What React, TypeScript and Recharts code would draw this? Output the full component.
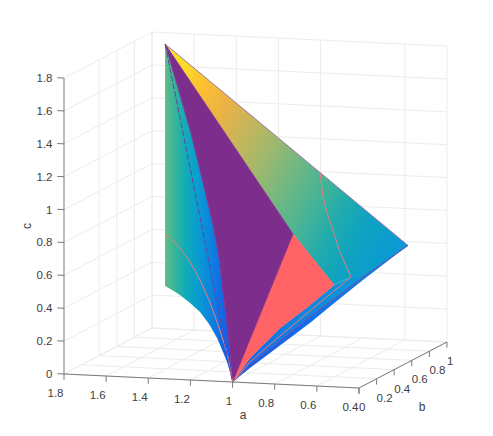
import React from 'react';
import { ComposedChart, XAxis, YAxis, Area, Line, Scatter } from 'recharts';

type P3 = [number, number, number]; // a, b, c

const A_TICKS = [1.8, 1.6, 1.4, 1.2, 1, 0.8, 0.6, 0.4];
const B_TICKS = [0, 0.2, 0.4, 0.6, 0.8, 1];
const C_TICKS = [0, 0.2, 0.4, 0.6, 0.8, 1, 1.2, 1.4, 1.6, 1.8];
const B_WALL_LINES = [0.4, 0.6, 0.8, 1];
const A_WALL_LINES = [1.8, 1.6, 1.4, 1.2, 1, 0.6, 0.4];

const APEX: P3 = [1.738, 1, 1.731];
const TIP: P3 = [0.585, 1, 0.576];
const ORIGIN: P3 = [1, 0, 0];
const PURPLE_CORNER: P3 = [1.131, 1, 0.613];
const SALMON_CORNER: P3 = [0.936, 1, 0.314];
const RED_CORNER: P3 = [0.856, 1, 0.368];
const LINE_KNEE: P3 = [0.799, 1, 0.371];

const WING_EDGE: P3[] = [[1.738, 1, 0.259], [1.642, 0.85, 0.283], [1.563, 0.75, 0.285], [1.473, 0.65, 0.27], [1.363, 0.5, 0.264], [1.258, 0.35, 0.239], [1.178, 0.25, 0.187], [1.108, 0.15, 0.134], [1.068, 0.1, 0.09], [1.033, 0.05, 0.045]];
const PURPLE_EDGE: P3[] = [[1.031, 0.05, 0.13], [1.063, 0.1, 0.266], [1.15, 0.25, 0.468], [1.202, 0.33, 0.65], [1.26, 0.4, 0.827], [1.375, 0.55, 1.064], [1.494, 0.7, 1.307], [1.614, 0.85, 1.513]];
const SALMON_EDGE: P3[] = [[0.967, 0.8, 0.247], [0.984, 0.5, 0.19], [1.001, 0.2, 0.09]];
const OUTER_EDGE: P3[] = [[0.799, 1, 0.353], [0.899, 0.9, 0.229], [0.967, 0.8, 0.137], [0.984, 0.5, 0.083], [1.001, 0.2, 0.029]];
const LOW_PURPLE: P3[] = [[0.899, 0.9, 0.253], [0.967, 0.8, 0.174], [0.984, 0.5, 0.11], [1.001, 0.2, 0.047]];
const RED_LOW: P3[] = [[0.967, 0.8, 0.21], [0.984, 0.5, 0.141], [1.001, 0.2, 0.066]];
const RED_UP: P3[] = [[1.003, 1, 0.997], [0.988, 1, 0.846], [0.969, 1, 0.75], [0.946, 1, 0.666], [0.908, 1, 0.517]];
const RED_LEFT: P3[] = [[1.738, 1, 0.576], [1.642, 0.85, 0.587], [1.563, 0.75, 0.571], [1.494, 0.7, 0.504], [1.363, 0.5, 0.458], [1.279, 0.4, 0.37], [1.178, 0.25, 0.284], [1.121, 0.17, 0.219], [1.068, 0.1, 0.144], [1.033, 0.05, 0.069]];
const DASH_LEFT: P3[] = [[1.569, 0.8, 1.256], [1.391, 0.6, 0.721], [1.26, 0.4, 0.48], [1.164, 0.25, 0.309], [1.068, 0.1, 0.132]];

// View: orthographic projection of the MATLAB camera
const proj = ([a, b, c]: P3) => ({
  x: 64 + (1.8 - a) * 210.7 + 88 * b,
  y: 436 - (374 + (1.8 - a) * 10 - 46 * b - 164.4 * c),
});
const path = (pts: P3[]) => pts.map(proj);
const poly = (pts: P3[]) => path([...pts, pts[0]]);

const rev = (p: P3[]) => [...p].reverse();
const WING = poly([APEX, ...rev(PURPLE_EDGE), ORIGIN, ...rev(WING_EDGE)]);
const SHEET = poly([APEX, TIP, LINE_KNEE, RED_CORNER, SALMON_CORNER, PURPLE_CORNER]);
const PURPLE = poly([APEX, PURPLE_CORNER, ORIGIN, ...PURPLE_EDGE]);
const SALMON = poly([PURPLE_CORNER, SALMON_CORNER, ...SALMON_EDGE, ORIGIN]);
const MID_BAND = poly([ORIGIN, ...rev(SALMON_EDGE), SALMON_CORNER, RED_CORNER, LINE_KNEE, ...LOW_PURPLE]);
const LOW_BAND = poly([ORIGIN, ...rev(OUTER_EDGE), TIP, LINE_KNEE, ...LOW_PURPLE]);

const seg = (p: P3, q: P3) => path([p, q]);
const GRID = [
  ...C_TICKS.map((c) => path([[1.8, 0, c], [1.8, 1, c], [0.4, 1, c]])),
  ...B_WALL_LINES.map((b) => seg([1.8, b, 0], [1.8, b, 1.8])),
  ...A_WALL_LINES.map((a) => seg([a, 1, 0], [a, 1, 1.8])),
  ...A_TICKS.map((a) => seg([a, 0, 0], [a, 1, 0])),
  ...B_TICKS.map((b) => seg([1.8, b, 0], [0.4, b, 0])),
];
const AXES = [
  seg([1.8, 0, 0], [1.8, 0, 1.8]),
  seg([1.8, 0, 0], [0.4, 0, 0]),
  seg([0.4, 0, 0], [0.4, 1, 0]),
  ...C_TICKS.map((c) => seg([1.8, 0, c], [1.832, 0, c])),
  ...A_TICKS.map((a) => seg([a, 0, 0], [a, 0, -0.035])),
  ...B_TICKS.map((b) => seg([0.4, b, 0], [0.4, b, -0.035])),
];

const LABELS = [
  ...C_TICKS.map((c) => ({ ...proj([1.8, 0, c]), text: String(c), dx: -11.5, dy: 0, anchor: 'end' })),
  ...A_TICKS.map((a) => ({ ...proj([a, 0, 0]), text: String(a), dx: -0.5, dy: 19, anchor: 'end' })),
  ...B_TICKS.map((b) => ({ ...proj([0.4, b, 0]), text: String(b), dx: 0, dy: 19, anchor: 'start' })),
];

const AXIS_NAMES = [
  { ...proj([1, 0, 0]), text: 'a', dx: 10.5, dy: 33, rot: 0 },
  { ...proj([0.4, 1, 0]), text: 'b', dx: -25, dy: 65, rot: 0 },
  { ...proj([1.8, 0, 0.9]), text: 'c', dx: -37, dy: 0, rot: -90 },
];

const TEXT = '#404040';
const FONT = '"Liberation Sans", Arial, sans-serif';

const stops = (list: [number, string][]) => list.map(([o, c]) => <stop key={o} offset={o} stopColor={c} />);

export default function App() {
  return (
    <div style={{ position: 'absolute', left: 0, top: 0, width: 493, height: 436 }}>
      <ComposedChart width={493} height={436} margin={{ top: 0, right: 0, bottom: 0, left: 0 }}>
        <defs>
          <linearGradient id="wing" gradientUnits="userSpaceOnUse" x1={165} y1={0} x2={232} y2={0}>
            {stops([[0, '#62bb84'], [0.15, '#35b59a'], [0.3, '#12acb6'], [0.45, '#09a0cc'], [0.62, '#0b8cda'], [0.78, '#0f74e4'], [0.88, '#1464e6'], [1, '#1f50e6']])}
          </linearGradient>
          <linearGradient id="sheet" gradientUnits="userSpaceOnUse" x1={165} y1={44} x2={450} y2={191}>
            {stops([[0, '#f8e81a'], [0.09, '#fdd92a'], [0.16, '#fcc030'], [0.25, '#ecb344'], [0.34, '#c8b55a'], [0.44, '#9fb96c'], [0.53, '#74b880'], [0.62, '#4fb592'], [0.72, '#22acab'], [0.81, '#0fa3c0'], [0.94, '#0a9ad4'], [1, '#0a95dd']])}
          </linearGradient>
          <linearGradient id="mid" gradientUnits="userSpaceOnUse" x1={232} y1={382} x2={360} y2={277}>
            {stops([[0, '#1a60e8'], [0.5, '#1280e2'], [1, '#0e98d4']])}
          </linearGradient>
          <linearGradient id="low" gradientUnits="userSpaceOnUse" x1={232} y1={382} x2={408} y2={246}>
            {stops([[0, '#1a55e6'], [0.5, '#1070e8'], [0.85, '#0f80e0'], [1, '#0a8ed8']])}
          </linearGradient>
        </defs>
        <XAxis type="number" dataKey="x" domain={[0, 493]} hide allowDataOverflow />
        <YAxis type="number" dataKey="y" domain={[0, 436]} hide allowDataOverflow />

        {GRID.map((d, i) => (
          <Line key={'g' + i} data={d} dataKey="y" stroke="#ececec" strokeWidth={1} dot={false} activeDot={false} isAnimationActive={false} zIndex={-50} />
        ))}
        {AXES.map((d, i) => (
          <Line key={'x' + i} data={d} dataKey="y" stroke="#7a7a7a" strokeWidth={1} dot={false} activeDot={false} isAnimationActive={false} zIndex={-40} />
        ))}

        <Area data={WING} dataKey="y" baseValue={0} fill="url(#wing)" fillOpacity={1} stroke="none" dot={false} activeDot={false} isAnimationActive={false} />
        <Area data={LOW_BAND} dataKey="y" baseValue={0} fill="url(#low)" fillOpacity={1} stroke="none" dot={false} activeDot={false} isAnimationActive={false} />
        <Area data={MID_BAND} dataKey="y" baseValue={0} fill="url(#mid)" fillOpacity={1} stroke="none" dot={false} activeDot={false} isAnimationActive={false} />
        <Area data={SHEET} dataKey="y" baseValue={0} fill="url(#sheet)" fillOpacity={1} stroke="none" dot={false} activeDot={false} isAnimationActive={false} />
        <Area data={SALMON} dataKey="y" baseValue={0} fill="#ff6366" fillOpacity={1} stroke="#ff6366" strokeWidth={0.8} dot={false} activeDot={false} isAnimationActive={false} />
        <Area data={PURPLE} dataKey="y" baseValue={0} fill="#7d2e8c" fillOpacity={1} stroke="#7d2e8c" strokeWidth={0.8} dot={false} activeDot={false} isAnimationActive={false} />

        <Line data={path([APEX, TIP])} dataKey="y" stroke="#9a78b0" strokeWidth={1} dot={false} activeDot={false} isAnimationActive={false} />
        <Line data={path([TIP, LINE_KNEE, ...LOW_PURPLE, ORIGIN])} dataKey="y" stroke="#6a45b0" strokeWidth={1} dot={false} activeDot={false} isAnimationActive={false} />
        <Line data={path([...RED_UP, RED_CORNER, ...RED_LOW, ORIGIN])} dataKey="y" stroke="#e0807a" strokeWidth={1} dot={false} activeDot={false} isAnimationActive={false} />
        <Line data={path([...RED_LEFT, ORIGIN])} dataKey="y" stroke="#e8807a" strokeWidth={1} dot={false} activeDot={false} isAnimationActive={false} />
        <Line data={path([APEX, ...DASH_LEFT, ORIGIN])} dataKey="y" stroke="#5e47a8" strokeWidth={1} strokeDasharray="6 2" dot={false} activeDot={false} isAnimationActive={false} />

        <Scatter
          data={LABELS}
          dataKey="y"
          isAnimationActive={false}
          shape={(p: any) => (
            <text x={p.cx + p.payload.dx} y={p.cy + p.payload.dy} textAnchor={p.payload.anchor} dominantBaseline="central" fontSize={11.5} fontFamily={FONT} fill={TEXT}>
              {p.payload.text}
            </text>
          )}
        />
        <Scatter
          data={AXIS_NAMES}
          dataKey="y"
          isAnimationActive={false}
          shape={(p: any) => {
            const x = p.cx + p.payload.dx;
            const y = p.cy + p.payload.dy;
            return (
              <text x={x} y={y} textAnchor="middle" dominantBaseline="central" fontSize={12} fontFamily={FONT} fill={TEXT} transform={p.payload.rot ? `rotate(${p.payload.rot} ${x} ${y})` : undefined}>
                {p.payload.text}
              </text>
            );
          }}
        />
      </ComposedChart>
    </div>
  );
}
